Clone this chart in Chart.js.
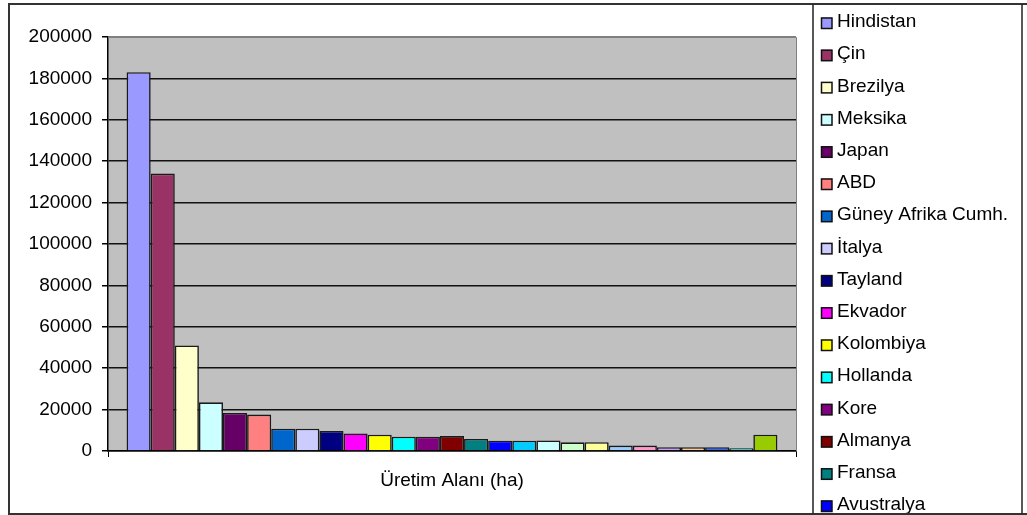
<!DOCTYPE html>
<html>
<head>
<meta charset="utf-8">
<script src="https://cdn.jsdelivr.net/npm/chart.js@4.4.1/dist/chart.umd.min.js"></script>
<style>
  html, body { margin: 0; padding: 0; background: #fff; }
  #wrap { width: 1027px; height: 515px; position: relative; }
</style>
</head>
<body>
<div id="wrap"><canvas id="uretimChart" width="1027" height="515"></canvas></div>
<script>
// category and series (one series per country, Excel style)
const categories = ["Üretim Alanı (ha)"];
const countries = ["Hindistan", "Çin", "Brezilya", "Meksika", "Japan", "ABD", "Güney Afrika Cumh.",
    "İtalya", "Tayland", "Ekvador", "Kolombiya", "Hollanda", "Kore", "Almanya", "Fransa", "Avustralya",
    "İspanya", "Endonezya", "Filipinler", "Kanada", "İran", "Peru", "Arjantin", "Polonya", "Mısır",
    "Şili", "Türkiye"];
const areas = [183000, 134000, 51000, 23500, 18400, 17600, 10800, 10800, 9700, 8500, 7900, 6900,
    6900, 7200, 5800, 5000, 5000, 5100, 4200, 4250, 2600, 2600, 1800, 1850, 1850, 1300, 7900];
const colors = ["#9999FF", "#993366", "#FFFFCC", "#CCFFFF", "#660066", "#FF8080", "#0066CC",
    "#CCCCFF", "#000080", "#FF00FF", "#FFFF00", "#00FFFF", "#800080", "#800000", "#008080", "#0000FF",
    "#00CCFF", "#CCFFFF", "#CCFFCC", "#FFFF99", "#99CCFF", "#FF99CC", "#CC99FF", "#FFCC99", "#3366FF",
    "#33CCCC", "#99CC00"];
const yTicks = [0, 20000, 40000, 60000, 80000, 100000, 120000, 140000, 160000, 180000, 200000];

const FONT = "'Liberation Sans', Arial, sans-serif";
const FSIZE = 19;

const datasets = countries.map((name, i) => ({
    label: name,
    data: [areas[i]],
    backgroundColor: colors[i],
    borderColor: '#1a1a1a',
    borderWidth: 1.6,
    categoryPercentage: 0.946,
    barPercentage: 1.0
}));

// gray plot area + frames + legend
const excelLook = {
    id: 'excelLook',
    beforeDraw(chart) {
        const ctx = chart.ctx;
        const a = chart.chartArea;
        ctx.save();
        ctx.fillStyle = '#fff';
        ctx.fillRect(0, 0, chart.width, chart.height);
        ctx.fillStyle = '#C0C0C0';
        ctx.fillRect(a.left, a.top, a.right - a.left, a.bottom - a.top);
        ctx.restore();
    },
    afterDraw(chart) {
        const ctx = chart.ctx;
        const a = chart.chartArea;
        ctx.save();
        // plot area border (top/right)
        ctx.strokeStyle = '#808080';
        ctx.lineWidth = 1;
        ctx.beginPath();
        ctx.moveTo(a.left, a.top + 0.5);
        ctx.lineTo(a.right + 0.5, a.top + 0.5);
        ctx.lineTo(a.right + 0.5, a.bottom);
        ctx.stroke();
        // outer chart frame
        ctx.strokeStyle = '#333';
        ctx.lineWidth = 2;
        ctx.beginPath();
        ctx.moveTo(chart.width + 2, 4);
        ctx.lineTo(9, 4);
        ctx.lineTo(9, 514);
        ctx.lineTo(chart.width + 2, 514);
        ctx.stroke();
        // legend box
        const lx = 813, rx = 1022;
        ctx.fillStyle = '#fff';
        ctx.fillRect(lx, 5, rx - lx, 508);
        ctx.strokeStyle = '#222';
        ctx.lineWidth = 1.5;
        ctx.beginPath();
        ctx.moveTo(lx, 4);
        ctx.lineTo(lx, 514);
        ctx.moveTo(rx, 4);
        ctx.lineTo(rx, 514);
        ctx.stroke();
        // legend items (clipped at the frame like the original)
        ctx.beginPath();
        ctx.rect(lx + 1, 5, rx - lx - 2, 508);
        ctx.clip();
        ctx.font = FSIZE + 'px ' + FONT;
        ctx.textBaseline = 'middle';
        ctx.textAlign = 'left';
        chart.data.datasets.forEach((ds, i) => {
            const cy = 23 + i * 32.2;
            ctx.fillStyle = ds.backgroundColor;
            ctx.fillRect(821, cy - 5.5, 11, 11);
            ctx.strokeStyle = '#111';
            ctx.lineWidth = 1.5;
            ctx.strokeRect(821.5, cy - 5, 10.5, 10.5);
            ctx.fillStyle = '#000';
            ctx.fillText(ds.label, 837, cy - 1);
        });
        ctx.restore();
    }
};

const config = {
    type: 'bar',
    data: {
        labels: categories,
        datasets: datasets
    },
    options: {
        responsive: false,
        animation: false,
        layout: {
            padding: { left: 0, right: 231, top: 37, bottom: 0 }
        },
        plugins: {
            legend: { display: false },
            tooltip: { enabled: false }
        },
        scales: {
            x: {
                ticks: { display: false },
                grid: {
                    display: true,
                    drawOnChartArea: false,
                    drawTicks: true,
                    tickLength: 6,
                    color: '#000'
                },
                border: { display: true, color: '#000', width: 1.5 },
                title: {
                    display: true,
                    text: categories[0],
                    color: '#000',
                    font: { family: FONT, size: FSIZE },
                    padding: { top: 0, bottom: 23 }
                },
                afterFit(scale) { scale.height = 64; }
            },
            y: {
                min: 0,
                max: 200000,
                afterBuildTicks(scale) {
                    scale.ticks = yTicks.map(v => ({ value: v }));
                },
                ticks: {
                    color: '#000',
                    padding: 10,
                    font: { family: FONT, size: FSIZE },
                    callback: v => String(v)
                },
                grid: {
                    color: ctx => (ctx.tick && ctx.tick.value === 200000) ? '#808080' : '#111',
                    lineWidth: 1.5,
                    tickLength: 6,
                    tickColor: '#000'
                },
                border: { display: true, color: '#000', width: 1.5 },
                afterFit(scale) { scale.width = 108; }
            }
        }
    },
    plugins: [excelLook]
};

const uretimChart = new Chart(document.getElementById('uretimChart'), config);
</script>
</body>
</html>
